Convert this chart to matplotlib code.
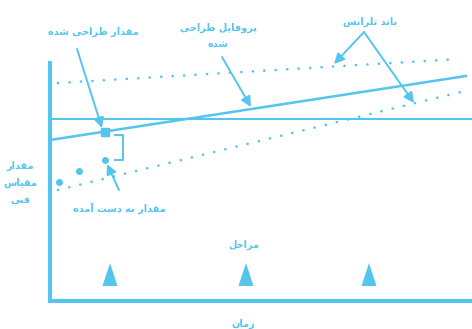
import matplotlib
matplotlib.use("Agg")
import matplotlib.pyplot as plt

# ---------------- data (in chart units: x = time, y = measured scale, y grows downward) -------------
axis_x = [50, 50]
axis_y = [61, 302]
base_x = [48, 472]
base_y = [301, 301]

target_x = [50, 472]
target_y = [119, 119]

profile_x = [50, 466]
profile_y = [140, 76]

upper_band_x = [58, 459]
upper_band_y = [83, 59]
lower_band_x = [58, 469]
lower_band_y = [190, 90]

design_point_x = [105]
design_point_y = [131.5]

measured_x = [59, 79, 105]
measured_y = [182, 171, 160]

bracket_x = [115, 123, 123, 115]
bracket_y = [134.5, 134.5, 159.5, 159.5]

stage_x = [110, 246, 369]

labels = {
    "design_value": "مقدار طراحی شده",
    "design_profile": "پروفایل طراحی\nشده",
    "tolerance": "باند تلرانس",
    "ylabel": "مقدار\nمقیاس\nفنی",
    "measured": "مقدار به دست آمده",
    "stages": "مراحل",
    "time": "زمان",
}

# ---------------- minimal Arabic/Persian shaping for display ----------------
FORMS = {
    'ا': ('\uFE8D', '\uFE8E', None, None),
    'آ': ('\uFE81', '\uFE82', None, None),
    'ب': ('\uFE8F', '\uFE90', '\uFE91', '\uFE92'),
    'پ': ('\uFB56', '\uFB57', '\uFB58', '\uFB59'),
    'ت': ('\uFE95', '\uFE96', '\uFE97', '\uFE98'),
    'ح': ('\uFEA1', '\uFEA2', '\uFEA3', '\uFEA4'),
    'د': ('\uFEA9', '\uFEAA', None, None),
    'ر': ('\uFEAD', '\uFEAE', None, None),
    'ز': ('\uFEAF', '\uFEB0', None, None),
    'س': ('\uFEB1', '\uFEB2', '\uFEB3', '\uFEB4'),
    'ش': ('\uFEB5', '\uFEB6', '\uFEB7', '\uFEB8'),
    'ط': ('\uFEC1', '\uFEC2', '\uFEC3', '\uFEC4'),
    'ف': ('\uFED1', '\uFED2', '\uFED3', '\uFED4'),
    'ق': ('\uFED5', '\uFED6', '\uFED7', '\uFED8'),
    'ل': ('\uFEDD', '\uFEDE', '\uFEDF', '\uFEE0'),
    'م': ('\uFEE1', '\uFEE2', '\uFEE3', '\uFEE4'),
    'ن': ('\uFEE5', '\uFEE6', '\uFEE7', '\uFEE8'),
    'ه': ('\uFEE9', '\uFEEA', '\uFEEB', '\uFEEC'),
    'و': ('\uFEED', '\uFEEE', None, None),
    'ی': ('\uFBFC', '\uFBFD', '\uFBFE', '\uFBFF'),
}


def shape_line(s):
    out = []
    n = len(s)
    for i, ch in enumerate(s):
        if ch not in FORMS:
            out.append(ch)
            continue
        prev = s[i - 1] if i > 0 else None
        nxt = s[i + 1] if i < n - 1 else None
        jp = prev in FORMS and FORMS[prev][2] is not None
        jn = FORMS[ch][2] is not None and nxt in FORMS
        iso, fin, ini, med = FORMS[ch]
        if jp and jn:
            out.append(med)
        elif jp:
            out.append(fin)
        elif jn:
            out.append(ini)
        else:
            out.append(iso)
    return "".join(reversed(out))


def shape(s):
    return "\n".join(shape_line(l) for l in s.split("\n"))


# ---------------- drawing ----------------
C = "#55c5ee"
plt.rcParams['font.family'] = ['DejaVu Sans Condensed', 'DejaVu Sans']

fig = plt.figure(figsize=(4.72, 3.29), dpi=100)
ax = fig.add_axes([0, 0, 1, 1])
ax.set_xlim(0, 472)
ax.set_ylim(329, 0)
ax.axis("off")

# axes
ax.plot(axis_x, axis_y, color=C, lw=3.0, solid_capstyle="butt")
ax.plot(base_x, base_y, color=C, lw=3.0, solid_capstyle="butt")

# target & profile
ax.plot(target_x, target_y, color=C, lw=1.5)
ax.plot(profile_x, profile_y, color=C, lw=1.8)

# tolerance bands
dot = (0, (0.05, 4.3))
ax.plot(upper_band_x, upper_band_y, color=C, lw=1.9, linestyle=dot, dash_capstyle="round")
ax.plot(lower_band_x, lower_band_y, color=C, lw=1.9, linestyle=dot, dash_capstyle="round")

# design point and measured points
ax.plot(design_point_x, design_point_y, marker="s", ms=6, color=C, linestyle="none")
ax.plot(measured_x, measured_y, marker="o", ms=4, color=C, linestyle="none")
ax.plot(bracket_x, bracket_y, color=C, lw=1.4)

# stage triangles
for sx in stage_x:
    ax.fill([sx - 7.5, sx + 7.5, sx], [286, 286, 263], color=C, lw=0)

# texts
tk = dict(color=C, fontsize=7.0, fontweight="bold", ha="center", va="center")
ax.text(93, 32, shape(labels["design_value"]), **tk)
ax.text(218, 36, shape(labels["design_profile"]), linespacing=1.9, **tk)
ax.text(370, 22, shape(labels["tolerance"]), **tk)
ax.text(20, 183, shape(labels["ylabel"]), linespacing=1.9, **tk)
ax.text(119, 208, shape(labels["measured"]), **tk)
ax.text(244, 245, shape(labels["stages"]), **tk)
ax.text(243, 324, shape(labels["time"]), **tk)

# arrows
ap = dict(arrowstyle="-|>", color=C, lw=1.4, mutation_scale=15, shrinkA=0, shrinkB=0)
ax.annotate("", xy=(102, 128), xytext=(77, 49), arrowprops=ap)
ax.annotate("", xy=(251, 107), xytext=(222, 57), arrowprops=ap)
ax.annotate("", xy=(334, 64), xytext=(364, 32), arrowprops=ap)
ax.annotate("", xy=(414, 103), xytext=(364, 32), arrowprops=ap)
ax.annotate("", xy=(107, 164), xytext=(119, 190), arrowprops=ap)

fig.savefig("out.png", dpi=100)
